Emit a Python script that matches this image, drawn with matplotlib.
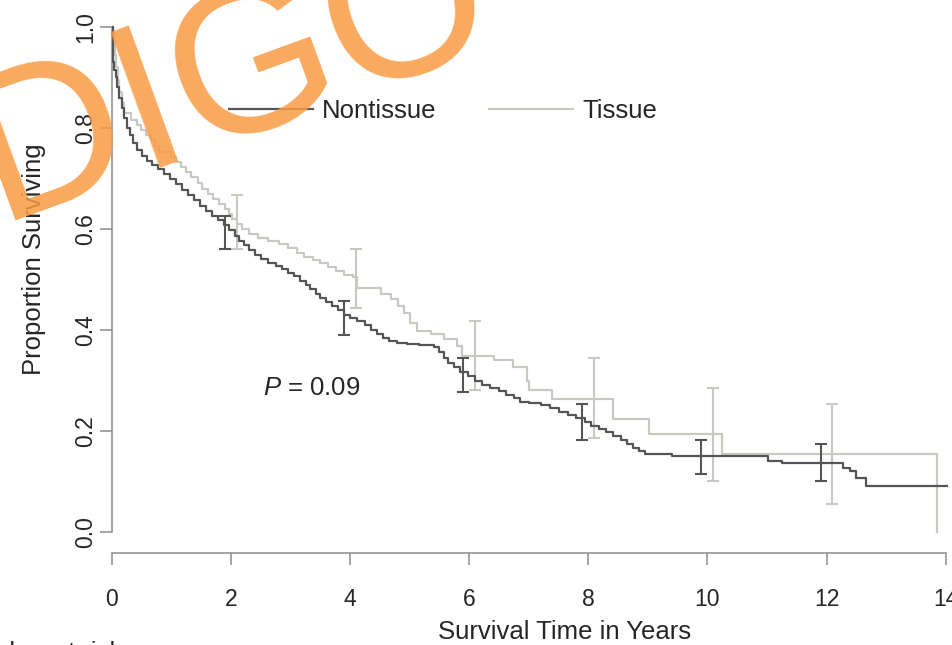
import matplotlib
matplotlib.use("Agg")
import matplotlib.pyplot as plt
import numpy as np

plt.rcParams['font.family'] = ['Liberation Sans', 'DejaVu Sans']
plt.rcParams['mathtext.fontset'] = 'custom'
plt.rcParams['mathtext.rm'] = 'Liberation Sans'
plt.rcParams['mathtext.it'] = 'Liberation Sans:italic'

# Kaplan-Meier estimates (time in years, proportion surviving after each step)
nontissue_time = [0, 0.01, 0.02, 0.04, 0.06, 0.09, 0.12, 0.16, 0.20, 0.25, 0.30, 0.36,
                  0.42, 0.50, 0.58, 0.68, 0.78, 0.88, 0.98, 1.08, 1.18, 1.28, 1.38,
                  1.48, 1.58, 1.68, 1.78, 1.88, 1.97, 2.06, 2.14, 2.22, 2.30, 2.40,
                  2.50, 2.62, 2.75, 2.85, 2.95, 3.05, 3.15, 3.25, 3.33, 3.42, 3.50,
                  3.60, 3.70, 3.80, 3.90, 4.00, 4.12, 4.25, 4.35, 4.45, 4.55, 4.65,
                  4.78, 4.95, 5.15, 5.40, 5.50, 5.57, 5.65, 5.75, 5.85, 5.98, 6.10,
                  6.22, 6.35, 6.50, 6.62, 6.75, 6.86, 7.00, 7.20, 7.35, 7.50, 7.65,
                  7.80, 7.95, 8.05, 8.18, 8.30, 8.42, 8.55, 8.65, 8.75, 8.85, 8.95,
                  9.40, 11.02, 11.25, 12.27, 12.40, 12.50, 12.66, 14.03]
nontissue_surv = [1.0, 0.96, 0.93, 0.915, 0.90, 0.88, 0.86, 0.84, 0.82, 0.80, 0.785, 0.77,
                  0.757, 0.745, 0.735, 0.727, 0.718, 0.708, 0.698, 0.688, 0.677, 0.667, 0.657,
                  0.646, 0.636, 0.626, 0.617, 0.607, 0.597, 0.587, 0.577, 0.568, 0.559, 0.549,
                  0.540, 0.533, 0.527, 0.520, 0.513, 0.506, 0.498, 0.490, 0.482, 0.472, 0.463,
                  0.455, 0.447, 0.439, 0.430, 0.424, 0.418, 0.410, 0.400, 0.392, 0.385, 0.378,
                  0.374, 0.372, 0.370, 0.366, 0.356, 0.345, 0.335, 0.326, 0.318, 0.310, 0.300,
                  0.292, 0.286, 0.280, 0.272, 0.265, 0.258, 0.256, 0.252, 0.245, 0.238, 0.232,
                  0.226, 0.218, 0.210, 0.204, 0.198, 0.190, 0.183, 0.175, 0.167, 0.161, 0.155,
                  0.151, 0.141, 0.137, 0.127, 0.121, 0.107, 0.091, 0.091]

tissue_time = [0, 0.02, 0.05, 0.07, 0.10, 0.12, 0.16, 0.20, 0.32, 0.42, 0.49, 0.57,
               0.65, 0.72, 0.79, 0.99, 1.08, 1.16, 1.24, 1.32, 1.44, 1.52, 1.62, 1.70,
               1.80, 1.90, 1.96, 2.02, 2.10, 2.18, 2.30, 2.45, 2.62, 2.80, 2.95, 3.10,
               3.22, 3.38, 3.50, 3.62, 3.76, 3.90, 4.05, 4.12, 4.51, 4.68, 4.80, 4.90,
               5.01, 5.13, 5.35, 5.57, 5.80, 5.88, 6.41, 6.73, 6.97, 7.00, 7.39, 8.41,
               9.02, 10.25, 13.85]
tissue_surv = [1.0, 0.975, 0.945, 0.92, 0.895, 0.87, 0.85, 0.83, 0.815, 0.805, 0.796, 0.786,
               0.776, 0.764, 0.752, 0.742, 0.732, 0.722, 0.712, 0.702, 0.690, 0.680, 0.670, 0.660,
               0.650, 0.640, 0.630, 0.620, 0.610, 0.600, 0.590, 0.583, 0.577, 0.571, 0.562, 0.553,
               0.545, 0.538, 0.532, 0.524, 0.516, 0.508, 0.504, 0.484, 0.472, 0.462, 0.448, 0.434,
               0.413, 0.399, 0.393, 0.383, 0.369, 0.349, 0.341, 0.327, 0.300, 0.282, 0.264, 0.224,
               0.194, 0.155, 0.0]

# 95% confidence limits at selected years
ci_years = [2, 4, 6, 8, 10, 12]
nontissue_lower = [0.561, 0.391, 0.278, 0.183, 0.115, 0.101]
nontissue_upper = [0.625, 0.458, 0.345, 0.254, 0.183, 0.174]
tissue_lower = [0.561, 0.444, 0.282, 0.187, 0.101, 0.056]
tissue_upper = [0.667, 0.561, 0.417, 0.345, 0.286, 0.254]

x_ticks = [0, 2, 4, 6, 8, 10, 12, 14]
y_ticks = [0.0, 0.2, 0.4, 0.6, 0.8, 1.0]
y_ticklabels = ["0.0", "0.2", "0.4", "0.6", "0.8", "1.0"]
p_label = r"$P$ = 0.09"

dark = "#555556"
light = "#c9c9c3"
axis_grey = "#8c8c8c"
text_col = "#262626"

fig = plt.figure(figsize=(9.53, 6.45), dpi=100)
ax = fig.add_axes([0.1175, 0.1434, 0.881, 0.8465])
ax.set_xlim(0, 14.1)
ax.set_ylim(-0.04, 1.04)

ax.step(tissue_time, tissue_surv, where="post", color=light, lw=1.6, label="Tissue", zorder=2)
ax.step(nontissue_time, nontissue_surv, where="post", color=dark, lw=1.6, label="Nontissue", zorder=3)


def cut_at(times, surv, t):
    idx = np.searchsorted(times, t, side="right") - 1
    return surv[idx]


yrs = np.array(ci_years, dtype=float)
nt_mid = np.array([cut_at(nontissue_time, nontissue_surv, t) for t in yrs])
ti_mid = np.array([cut_at(tissue_time, tissue_surv, t) for t in yrs])
nl, nu = np.array(nontissue_lower), np.array(nontissue_upper)
tl, tu = np.array(tissue_lower), np.array(tissue_upper)
ax.errorbar(yrs + 0.1, ti_mid, yerr=[ti_mid - tl, tu - ti_mid], fmt="none",
            ecolor=light, elinewidth=1.5, capsize=4, capthick=1.5, zorder=2)
ax.errorbar(yrs - 0.1, nt_mid, yerr=[nt_mid - nl, nu - nt_mid], fmt="none",
            ecolor=dark, elinewidth=1.5, capsize=4, capthick=1.5, zorder=3)

# R-style detached axes
for s in ["top", "right"]:
    ax.spines[s].set_visible(False)
ax.spines["left"].set_position(("data", 0))
ax.spines["left"].set_bounds(0, 1)
ax.spines["bottom"].set_bounds(0, 14)
for s in ["left", "bottom"]:
    ax.spines[s].set_color(axis_grey)
    ax.spines[s].set_linewidth(1.1)

ax.set_xticks(x_ticks)
ax.set_yticks(y_ticks)
ax.set_yticklabels(y_ticklabels)
ax.tick_params(axis="both", length=8.6, width=1.1, color=axis_grey,
               labelcolor=text_col, labelsize=16.5)
ax.tick_params(axis="x", pad=17)
ax.tick_params(axis="y", pad=2)
for lab in ax.get_yticklabels():
    lab.set_rotation(90)
    lab.set_va("center")

ax.set_xlabel("Survival Time in Years", fontsize=18.5, color=text_col)
ax.xaxis.set_label_coords(0.539, -0.123)
ax.set_ylabel("Proportion Surviving", fontsize=18.5, color=text_col)
ax.yaxis.set_label_coords(-0.078, 0.537)

handles, labels = ax.get_legend_handles_labels()
ax.legend(handles[::-1], labels[::-1], ncol=2, frameon=False, fontsize=18.5,
          loc="center left", bbox_to_anchor=(0.139, 0.808), borderpad=0,
          borderaxespad=0, handlelength=3.27, handletextpad=0.35,
          columnspacing=2.06, labelcolor=text_col)

ax.text(2.53, 0.286, p_label, fontsize=18.5, color=text_col, ha="left", va="center")

fig.text(-0.047, -0.023, "Number at risk", fontsize=18.5, color=text_col,
         ha="left", va="baseline")

# watermark
fig.text(-0.208, 0.549, "INDIGO", fontsize=151, color="#f99b43", alpha=0.85,
         rotation=20, rotation_mode="anchor", ha="left", va="baseline", zorder=10)

fig.savefig("out.png", dpi=100)
